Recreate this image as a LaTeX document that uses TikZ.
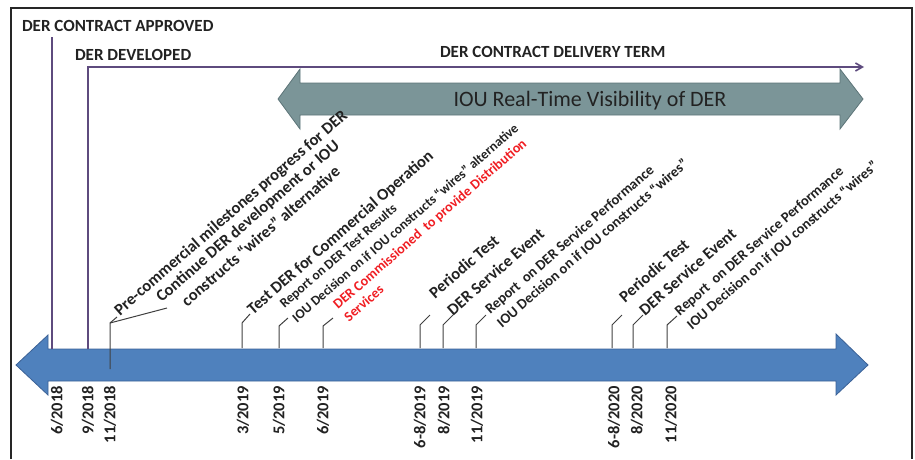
\documentclass[tikz,border=0pt]{standalone}
\usepackage{fontspec}
\setmainfont{Carlito}
\usetikzlibrary{arrows.meta}

\definecolor{timeblue}{HTML}{4F81BD}
\definecolor{timeblueedge}{HTML}{3B6196}
\definecolor{visgray}{HTML}{7B9598}
\definecolor{visgrayedge}{HTML}{5C7478}
\definecolor{termpurple}{HTML}{5E4B7E}
\definecolor{labeltext}{HTML}{222222}
\definecolor{commred}{HTML}{F01E23}

\begin{document}
\begin{tikzpicture}[x=1pt,y=-1pt,
    every node/.style={inner sep=0pt,outer sep=0pt,text=labeltext},
    phase/.style={font=\bfseries\fontsize{17}{20}\selectfont,anchor=base west},
    event/.style={font=\bfseries\fontsize{16.5}{20}\selectfont,rotate=41,anchor=base west,align=left},
    smallevent/.style={event,font=\bfseries\fontsize{13.5}{19}\selectfont},
    datelbl/.style={font=\bfseries\fontsize{16.5}{19}\selectfont,rotate=90,anchor=east},
    tickline/.style={black!75,line width=1pt},
    termline/.style={termpurple,line width=1.6pt}]
  \useasboundingbox (0,0) rectangle (915,459);

  % frame
  \draw [black!85,line width=1.4pt] (11,459) -- (11,8) -- (912,8) -- (912,459);

  % visibility arrow
  \draw [visgrayedge,fill=visgray,line width=0.8pt] (278,99) -- (300,69) -- (300,83) -- (840,83) -- (840,69) -- (863,99) -- (840,129) -- (840,115) -- (300,115) -- (300,129) -- cycle;
  \node [font=\fontsize{22}{26}\selectfont,anchor=base] (vis) at (590,106) {IOU Real-Time Visibility of DER};

  % time line
  \draw [timeblueedge,fill=timeblue,line width=0.8pt] (16,365) -- (48,335) -- (48,349) -- (836,349) -- (836,334) -- (868,365) -- (836,395) -- (836,381) -- (48,381) -- (48,395) -- cycle;

  % contract and delivery term
  \coordinate (approved) at (52,37);
  \coordinate (approvedfoot) at (52,349);
  \coordinate (developed) at (88,67);
  \coordinate (developedfoot) at (88,349);
  \coordinate (termend) at (864,67);
  \draw [termline] (approvedfoot) -- (approved);
  \draw [termline,-{Straight Barb[length=7pt,width=8pt]}] (developedfoot) -- (developed) -- (termend);
  \node [phase] (approvedlbl) at (22,31) {DER CONTRACT APPROVED};
  \node [phase] (developedlbl) at (75,60) {DER DEVELOPED};
  \node [phase] (termlbl) at (440,57) {DER CONTRACT DELIVERY TERM};

  % dates
  \node [datelbl] (d0618) at (57,386) {6/2018};
  \node [datelbl] (d0918) at (88,386) {9/2018};
  \node [datelbl] (d1118) at (110,386) {11/2018};
  \node [datelbl] (d0319) at (243,386) {3/2019};
  \node [datelbl] (d0519) at (279,386) {5/2019};
  \node [datelbl] (d0619) at (323,386) {6/2019};
  \node [datelbl] (d6819) at (420,386) {6-8/2019};
  \node [datelbl] (d0819) at (444,386) {8/2019};
  \node [datelbl] (d1119) at (477,386) {11/2019};
  \node [datelbl] (d6820) at (614,386) {6-8/2020};
  \node [datelbl] (d0820) at (637,386) {8/2020};
  \node [datelbl] (d1120) at (671,386) {11/2020};

  % events (multi-line labels sit on their last line)
  \node [event] (pre) at (120,316) {Pre-commercial milestones progress for DER};
  \node [event,align=center] (cont) at (175,318) {Continue DER development or IOU\\constructs ``wires'' alternative};
  \node [event] (test) at (253,315) {Test DER for Commercial Operation};
  \node [smallevent] (rep1) at (297,323) {Report on DER Test Results\\IOU Decision on if IOU constructs ``wires'' alternative};
  \node [event,text=commred,font=\bfseries\fontsize{14}{16.5}\selectfont] (comm) at (349,322) {DER Commissioned\ \ to provide Distribution\\Services};
  \node [event] (per1) at (435,299) {Periodic Test};
  \node [event] (svc1) at (453,316) {DER Service Event};
  \node [event,font=\bfseries\fontsize{14.5}{17.7}\selectfont] (rep2) at (502,328) {Report\ \ on DER Service Performance\\IOU Decision on if IOU constructs ``wires''};
  \node [event] (per2) at (625,303) {Periodic Test};
  \node [event] (svc2) at (645,316) {DER Service Event};
  \node [event,font=\bfseries\fontsize{14.5}{18.4}\selectfont] (rep3) at (692,330) {Report\ \ on DER Service Performance\\IOU Decision on if IOU constructs ``wires''};

  % tick marks
  \coordinate (k1foot) at (110,369);
  \coordinate (k1bend) at (110,323);
  \coordinate (k1a) at (117,317);
  \coordinate (k1b) at (167,308);
  \draw [tickline] (k1foot) -- (k1bend) -- (k1a);
  \draw [tickline] (k1bend) -- (k1b);
  \coordinate (k2foot) at (242,348);
  \coordinate (k2bend) at (242,323);
  \coordinate (k2end) at (250,314);
  \draw [tickline] (k2foot) -- (k2bend) -- (k2end);
  \coordinate (k3foot) at (279,348);
  \coordinate (k3bend) at (279,326);
  \coordinate (k3end) at (288,318);
  \draw [tickline] (k3foot) -- (k3bend) -- (k3end);
  \coordinate (k4foot) at (323,348);
  \coordinate (k4bend) at (323,326);
  \coordinate (k4end) at (333,318);
  \draw [tickline] (k4foot) -- (k4bend) -- (k4end);
  \coordinate (k5foot) at (420,348);
  \coordinate (k5bend) at (420,325);
  \coordinate (k5end) at (430,315);
  \draw [tickline] (k5foot) -- (k5bend) -- (k5end);
  \coordinate (k6foot) at (443,348);
  \coordinate (k6bend) at (443,325);
  \coordinate (k6end) at (453,315);
  \draw [tickline] (k6foot) -- (k6bend) -- (k6end);
  \coordinate (k7foot) at (476,348);
  \coordinate (k7bend) at (476,325);
  \coordinate (k7end) at (486,315);
  \draw [tickline] (k7foot) -- (k7bend) -- (k7end);
  \coordinate (k8foot) at (612,348);
  \coordinate (k8bend) at (612,325);
  \coordinate (k8end) at (622,315);
  \draw [tickline] (k8foot) -- (k8bend) -- (k8end);
  \coordinate (k9foot) at (633,348);
  \coordinate (k9bend) at (633,325);
  \coordinate (k9end) at (643,315);
  \draw [tickline] (k9foot) -- (k9bend) -- (k9end);
  \coordinate (k10foot) at (667,348);
  \coordinate (k10bend) at (667,325);
  \coordinate (k10end) at (677,316);
  \draw [tickline] (k10foot) -- (k10bend) -- (k10end);
\end{tikzpicture}
\end{document}
